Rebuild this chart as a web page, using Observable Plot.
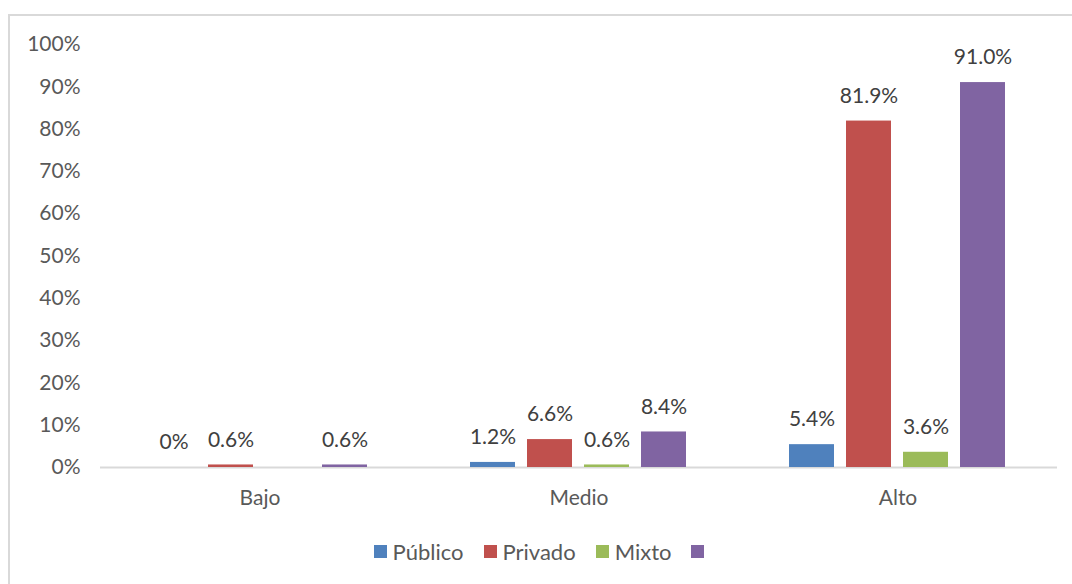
<!DOCTYPE html>
<html>
<head>
<meta charset="utf-8">
<script src="https://cdn.jsdelivr.net/npm/d3@7"></script>
<script src="https://cdn.jsdelivr.net/npm/@observablehq/plot@0.6"></script>
<style>
  html, body { margin: 0; padding: 0; background: #fff; }
  #wrap { position: relative; width: 1072px; height: 584px; overflow: hidden; font-family: Lato, "Open Sans", sans-serif; }
  #frame { position: absolute; left: 8px; top: 14px; width: 1100px; height: 600px; border-left: 2px solid #d9d9d9; border-top: 2px solid #d9d9d9; box-sizing: border-box; }
  #chart { position: absolute; left: 0; top: 0; }
  #legend { position: absolute; left: 6px; top: 538px; width: 1072px; height: 26px; display: flex; justify-content: center; align-items: center; font-size: 22px; color: #595959; }
  .item { display: flex; align-items: center; margin: 0 10px; }
  .sw { width: 13px; height: 13px; margin-right: 6px; }
</style>
</head>
<body>
<div id="wrap">
  <div id="frame"></div>
  <div id="chart"></div>
  <div id="legend"></div>
</div>
<script>
const categories = ["Bajo", "Medio", "Alto"];
const seriesKeys = ["Público", "Privado", "Mixto", "Serie 4"];
const seriesLabels = ["Público", "Privado", "Mixto", ""];
const colors = ["#4F81BD", "#C0504D", "#9BBB59", "#8064A2"];
const publico = [0, 0.012, 0.054];
const privado = [0.006, 0.066, 0.819];
const mixto = [null, 0.006, 0.036];
const serie4 = [0.006, 0.084, 0.910];
const yTicks = [0, 0.1, 0.2, 0.3, 0.4, 0.5, 0.6, 0.7, 0.8, 0.9, 1.0];

const seriesValues = [publico, privado, mixto, serie4];
const data = [];
categories.forEach((c, i) => {
  seriesKeys.forEach((s, j) => {
    const v = seriesValues[j][i];
    if (v !== null && v !== undefined) data.push({cat: c, series: s, value: v});
  });
});
const fmt = v => v === 0 ? "0%" : d3.format(".1%")(v);

const chart = Plot.plot({
  width: 1072,
  height: 530,
  marginTop: 44,
  marginBottom: 63,
  marginLeft: 99,
  marginRight: 14,
  style: {fontFamily: "Lato, 'Open Sans', sans-serif", fontSize: "21px", color: "#595959", background: "transparent"},
  fx: {domain: categories, padding: 0, label: null, axis: "bottom", tickSize: 0, tickPadding: 23},
  x: {domain: seriesKeys, paddingInner: 0.21, paddingOuter: 0.887, axis: null},
  y: {domain: [0, 1], ticks: yTicks, tickFormat: d3.format(".0%"), tickSize: 0, tickPadding: 20, label: null},
  color: {domain: seriesKeys, range: colors},
  marks: [
    Plot.ruleY([0], {stroke: "#d9d9d9", strokeWidth: 2}),
    Plot.barY(data, {fx: "cat", x: "series", y: "value", fill: "series"}),
    Plot.text(data, {fx: "cat", x: "series", y: "value", text: d => fmt(d.value), dy: -25, fill: "#404040", fontSize: 21})
  ]
});
document.getElementById("chart").appendChild(chart);

const legend = document.getElementById("legend");
seriesKeys.forEach((s, j) => {
  const item = document.createElement("div");
  item.className = "item";
  const sw = document.createElement("div");
  sw.className = "sw";
  sw.style.background = colors[j];
  item.appendChild(sw);
  const t = document.createElement("span");
  t.textContent = seriesLabels[j];
  item.appendChild(t);
  legend.appendChild(item);
});
</script>
</body>
</html>
